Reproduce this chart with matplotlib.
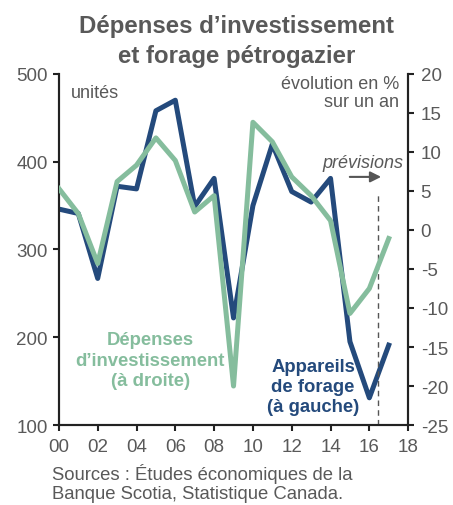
"""Dépenses d'investissement et forage pétrogazier (dual axis line chart)."""
import matplotlib
matplotlib.use("Agg")
import matplotlib.pyplot as plt

YEARS = list(range(2000, 2018))
RIGS = [346, 341, 267, 372, 369, 458, 470, 349, 381, 222, 350,
        420, 366, 354, 381, 195, 131, 191]
CAPEX_PCT = [5.3, 2.1, -4.3, 6.2, 8.3, 11.8, 8.9, 2.3, 4.4, -20.0, 13.8,
             11.3, 6.8, 4.4, 1.2, -10.7, -7.5, -1.1]
XTICKS = list(range(2000, 2019, 2))
XTICK_LABELS = ["00", "02", "04", "06", "08", "10", "12", "14", "16", "18"]
FORECAST_START = 2016.45

BLUE = "#244a7c"
GREEN = "#85bd9d"
GRAY = "#595959"


def _main() -> None:
    plt.rcParams["font.family"] = ["Liberation Sans", "DejaVu Sans"]
    plt.rcParams["axes.unicode_minus"] = False
    fig = plt.figure(figsize=(4.53, 5.06), dpi=100)
    ax = fig.add_axes([0.130, 0.158, 0.771, 0.694])
    ax2 = ax.twinx()

    ax.plot(YEARS, RIGS, color=BLUE, lw=3.6, zorder=3)
    ax2.plot(YEARS, CAPEX_PCT, color=GREEN, lw=3.6, zorder=4)

    ax.set_xlim(2000, 2018)
    ax.set_ylim(100, 500)
    ax2.set_ylim(-25, 20)
    ax.set_xticks(XTICKS)
    ax.set_xticklabels(XTICK_LABELS)
    ax.set_yticks(range(100, 501, 100))
    ax2.set_yticks(range(-25, 21, 5))

    for a in (ax, ax2):
        a.spines["top"].set_visible(False)
        for s in a.spines.values():
            s.set_linewidth(1.5)
            s.set_color("#222222")
        a.tick_params(colors="#222222", labelcolor=GRAY, labelsize=13.5,
                      width=1.5, length=4)
    ax.tick_params(axis="y", pad=4)
    ax2.tick_params(axis="y", pad=5)
    ax.tick_params(axis="x", pad=5)

    # forecast marker
    ax2.plot([FORECAST_START, FORECAST_START], [-25, 4.9], color="#555555",
             lw=1, ls=(0, (4, 3)), zorder=2)
    ax2.annotate("", xy=(2016.75, 6.8), xytext=(2014.85, 6.8),
                 arrowprops=dict(arrowstyle="-|>", color="#555555", lw=1.5,
                                 mutation_scale=16))
    ax2.text(2017.75, 8.7, "prévisions", style="italic", color=GRAY,
             fontsize=13, ha="right", va="center")

    ax.text(0.035, 0.972, "unités", transform=ax.transAxes, color=GRAY,
            fontsize=13, ha="left", va="top")
    ax.text(0.975, 0.997, "évolution en %\nsur un an", transform=ax.transAxes,
            color=GRAY, fontsize=13, ha="right", va="top", linespacing=1.1)

    ax.text(2004.7, 174, "Dépenses\nd’investissement\n(à droite)",
            color=GREEN, fontsize=13.3, fontweight="bold", ha="center",
            va="center", linespacing=1.25)
    ax.text(2013.1, 144, "Appareils\nde forage\n(à gauche)",
            color=BLUE, fontsize=13.3, fontweight="bold", ha="center",
            va="center", linespacing=1.2)

    fig.text(0.523, 0.918, "Dépenses d’investissement\net forage pétrogazier",
             color=GRAY, fontsize=17.3, fontweight="bold", ha="center",
             va="center", linespacing=1.35)
    fig.text(0.115, 0.045, "Sources : Études économiques de la\n"
             "Banque Scotia, Statistique Canada.", color=GRAY,
             fontsize=13.3, ha="left", va="center", linespacing=1.15)

    fig.savefig("out.png", dpi=100, facecolor="w")


if __name__ == "__main__":
    _main()
